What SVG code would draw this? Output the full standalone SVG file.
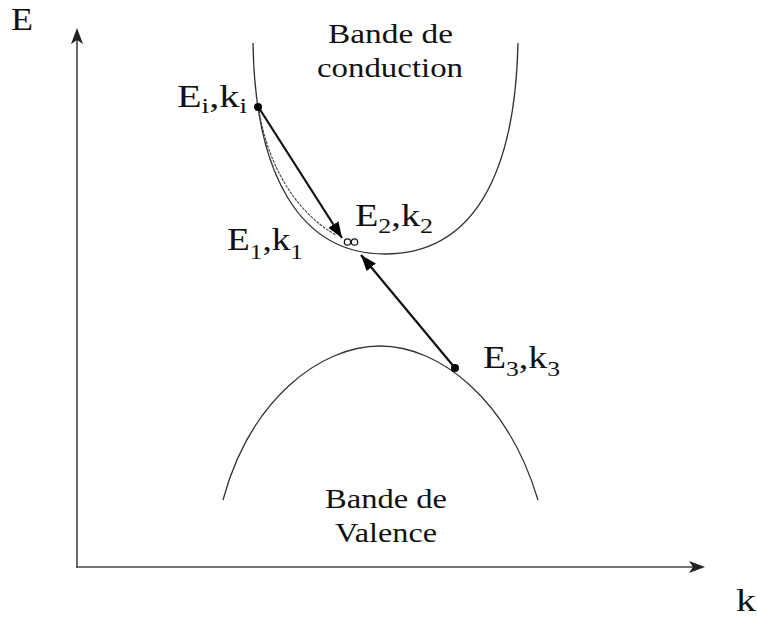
<svg xmlns="http://www.w3.org/2000/svg" width="758" height="617" viewBox="0 0 758 617">
<defs>
<style>
.t{font-family:"Liberation Serif","Times New Roman",serif;fill:#111}
.lab{font-size:31px}
.sub{font-size:21px}
.band{font-size:28px}
.curve{fill:none;stroke:#333;stroke-width:1.3}
.axis{fill:none;stroke:#444;stroke-width:1.6}
.tr{fill:none;stroke:#111;stroke-width:2.2}
</style>
<marker id="ah" markerUnits="userSpaceOnUse" markerWidth="18" markerHeight="14" refX="16" refY="6" orient="auto">
<path d="M0,0 L16,6 L0,12 z" fill="#000"/>
</marker>
</defs>
<rect width="758" height="617" fill="#fff"/>
<g id="axes">
<path class="axis" d="M77,568 L77,32"/>
<path d="M77,28 L71,44 L77,40 L83,44 z" fill="#222"/>
<path class="axis" d="M77,567 L701,567"/>
<path d="M705,567 L689,561 L693,567 L689,573 z" fill="#222"/>
<text class="t" x="11" y="30" style="font-size:31px" textLength="22" lengthAdjust="spacingAndGlyphs">E</text>
<text class="t" x="736" y="611" style="font-size:31px" textLength="20" lengthAdjust="spacingAndGlyphs">k</text>
</g>
<g id="conduction-band">
<path class="curve" d="M253,43 C255,175 300,254 385,254 C470,254 515,180 518,43"/>
<text class="t band" x="328" y="43" textLength="125" lengthAdjust="spacingAndGlyphs">Bande de</text>
<text class="t band" x="317" y="77" textLength="146" lengthAdjust="spacingAndGlyphs">conduction</text>
</g>
<g id="valence-band">
<path class="curve" d="M223,500 C250,400 320,346 380,346 C440,346 508,400 538,500"/>
<text class="t band" x="325" y="508" textLength="122" lengthAdjust="spacingAndGlyphs">Bande de</text>
<text class="t band" x="335" y="542" textLength="102" lengthAdjust="spacingAndGlyphs">Valence</text>
</g>
<g id="connectors">
<path d="M259,110 C268,168 298,214 336,235" fill="none" stroke="#444" stroke-width="1.1" stroke-dasharray="3,1"/>
<line class="tr" x1="259" y1="108" x2="342" y2="238" marker-end="url(#ah)"/>
<line class="tr" x1="455" y1="368" x2="361" y2="255" marker-end="url(#ah)"/>
<circle cx="347.5" cy="242" r="3.2" fill="#fff" stroke="#111" stroke-width="1.2"/>
<circle cx="354.5" cy="242" r="3.2" fill="#fff" stroke="#111" stroke-width="1.2"/>
</g>
<g id="state-i">
<circle cx="258" cy="107" r="4" fill="#000"/>
<text class="t lab" x="177" y="107" textLength="70" lengthAdjust="spacingAndGlyphs">E<tspan class="sub" dy="6">i</tspan><tspan dy="-6">,k</tspan><tspan class="sub" dy="6">i</tspan></text>
</g>
<g id="state-1">
<text class="t lab" x="227" y="250" textLength="76" lengthAdjust="spacingAndGlyphs">E<tspan class="sub" dy="9">1</tspan><tspan dy="-9">,k</tspan><tspan class="sub" dy="9">1</tspan></text>
</g>
<g id="state-2">
<text class="t lab" x="355" y="226" textLength="78" lengthAdjust="spacingAndGlyphs">E<tspan class="sub" dy="7">2</tspan><tspan dy="-7">,k</tspan><tspan class="sub" dy="7">2</tspan></text>
</g>
<g id="state-3">
<circle cx="455" cy="368" r="4" fill="#000"/>
<text class="t lab" x="483" y="368" textLength="77" lengthAdjust="spacingAndGlyphs">E<tspan class="sub" dy="8">3</tspan><tspan dy="-8">,k</tspan><tspan class="sub" dy="8">3</tspan></text>
</g>
</svg>
